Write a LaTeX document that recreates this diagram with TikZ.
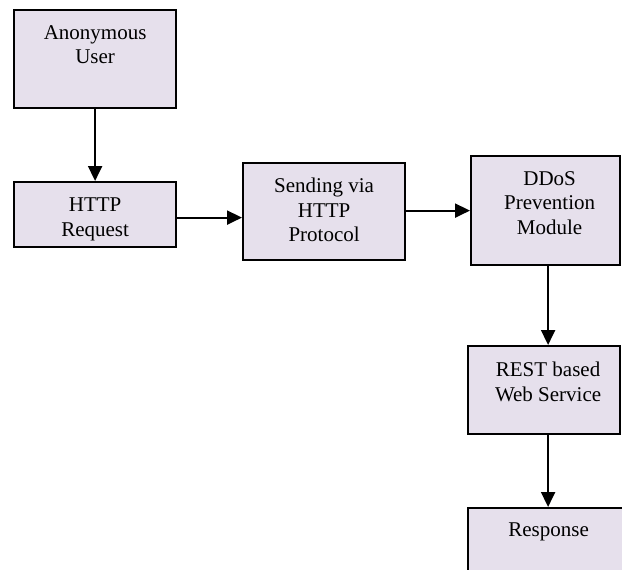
\documentclass[tikz,border=0pt]{standalone}
\usepackage{fontspec}
\setmainfont{Liberation Serif}
\usetikzlibrary{arrows.meta}
\definecolor{boxfill}{RGB}{230,224,236}
\tikzset{
  box/.style={draw=black, line width=2.2pt, fill=boxfill, anchor=north west, inner sep=0pt},
  lbl/.style={anchor=north, align=center, inner sep=0pt, font=\fontsize{21}{24.5}\selectfont},
  conn/.style={line width=2pt, -{Triangle[length=15pt,width=14pt]}}
}
\begin{document}
\begin{tikzpicture}[x=1pt,y=-1pt]
\useasboundingbox (0,0) rectangle (622,570);
\clip (0,0) rectangle (622,570);
\fill[white] (0,0) rectangle (622,570);
% boxes
\node[box, minimum width=162pt, minimum height=98pt] (b1) at (13,9) {};
\node[box, minimum width=162pt, minimum height=65pt] (b2) at (13,181) {};
\node[box, minimum width=162pt, minimum height=97pt] (b3) at (242,162) {};
\node[box, minimum width=149pt, minimum height=109pt] (b4) at (470,155) {};
\node[box, minimum width=152pt, minimum height=88pt] (b5) at (467,345) {};
\node[box, minimum width=175pt, minimum height=90pt] (b6) at (467,507) {};
% labels
\node[lbl] (t1) at ([yshift=-16pt]b1.north) {Anonymous\\User};
\node[lbl] (t2) at ([yshift=-17pt]b2.north) {HTTP\\Request};
\node[lbl] (t3) at ([yshift=-16pt]b3.north) {Sending via\\HTTP\\Protocol};
\node[lbl] (t4) at ([yshift=-16pt, xshift=4pt]b4.north) {DDoS\\Prevention\\Module};
\node[lbl] (t5) at ([yshift=-17pt, xshift=4pt]b5.north) {REST based\\Web Service};
\node[lbl] (t6) at ([yshift=-16pt, xshift=-7pt]b6.north) {Response};
% connectors
\draw[conn] (b1.south) -- (b2.north);
\draw[conn] ([yshift=-3pt]b2.east) -- ([yshift=-3pt]b2.east -| b3.west);
\draw[conn] ([yshift=1pt]b3.east) -- ([yshift=1pt]b3.east -| b4.west);
\draw[conn] ([xshift=2.5pt]b4.south) -- ([xshift=2.5pt]b4.south |- b5.north);
\draw[conn] ([xshift=4pt]b5.south) -- ([xshift=4pt]b5.south |- b6.north);
\end{tikzpicture}
\end{document}
